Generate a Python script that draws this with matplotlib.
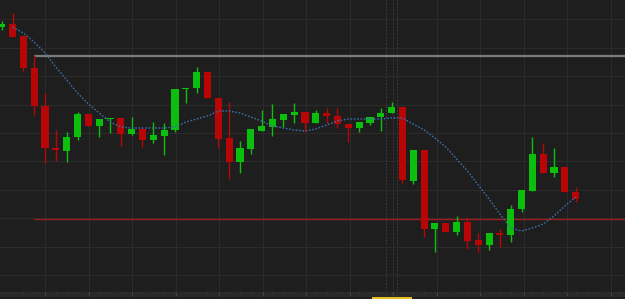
import numpy as np
import matplotlib
matplotlib.use("Agg")
import matplotlib.pyplot as plt
from matplotlib.patches import Rectangle

# OHLC (arbitrary price units, no axis labels shown)
opens = [27.3, 27.6, 26.4, 23.2, 19.4, 15.2, 14.9, 16.3, 18.6, 17.4,
         18.1, 18.2, 16.6, 17.1, 16.0, 16.4, 17.0, 21.1, 21.2, 22.8,
         20.2, 16.2, 13.8, 15.1, 16.9, 17.3, 18.0, 18.5, 18.8, 17.7,
         18.7, 18.4, 17.6, 17.2, 17.7, 18.3, 18.7, 19.3, 11.9, 15.0,
         7.1, 7.7, 6.8, 7.8, 6.0, 5.5, 6.7, 6.5, 9.1, 10.9,
         14.6, 12.7, 13.3, 10.8]
highs = [27.9, 28.7, 26.4, 24.5, 20.7, 17.0, 16.8, 18.8, 18.6, 18.1,
         18.2, 18.2, 18.3, 17.1, 17.8, 17.7, 21.1, 21.2, 23.3, 22.8,
         20.2, 19.8, 15.9, 17.1, 19.0, 19.6, 18.6, 19.7, 18.8, 19.0,
         19.2, 19.2, 17.6, 17.8, 18.3, 19.2, 19.8, 19.3, 15.0, 15.0,
         7.7, 7.7, 8.4, 8.3, 6.7, 6.7, 7.1, 9.5, 11.0, 16.3,
         15.7, 15.2, 13.3, 11.3]
lows = [27.0, 26.3, 22.9, 18.5, 13.7, 13.9, 13.8, 16.0, 17.4, 16.3,
        16.7, 15.4, 16.5, 15.3, 15.7, 14.5, 16.8, 19.7, 20.7, 20.2,
        15.2, 12.1, 12.7, 14.6, 16.9, 16.4, 17.3, 17.7, 16.8, 17.7,
        17.7, 17.2, 15.8, 16.8, 17.5, 16.9, 18.7, 11.7, 11.6, 6.3,
        4.8, 6.8, 6.5, 5.1, 4.8, 5.0, 5.3, 5.8, 8.8, 10.9,
        12.7, 12.3, 10.8, 9.8]
closes = [27.6, 26.3, 23.2, 19.4, 15.2, 15.0, 16.3, 18.6, 17.4, 18.1,
          18.2, 16.6, 17.1, 16.0, 16.5, 17.0, 21.1, 21.2, 22.8, 20.2,
          16.1, 13.8, 15.2, 17.1, 17.4, 18.1, 18.6, 18.8, 17.7, 18.7,
          18.4, 17.6, 17.2, 17.8, 18.3, 18.7, 19.3, 12.0, 15.0, 7.1,
          7.7, 6.8, 7.8, 5.9, 5.5, 6.7, 6.5, 9.1, 11.0, 14.6,
          12.7, 13.3, 10.8, 10.1]

# moving average (starts at the 2nd bar)
ma = [np.nan, 27.3, 26.7, 25.8, 24.7, 23.3, 22.0, 20.7, 19.6, 18.7,
      17.8, 17.3, 17.2, 17.2, 17.2, 17.2, 17.3, 17.8, 18.1, 18.4,
      18.9, 18.9, 18.7, 18.3, 17.9, 17.4, 17.2, 17.0, 16.9, 17.1,
      17.5, 17.9, 18.1, 18.1, 18.1, 18.1, 18.2, 18.2, 17.6, 17.0,
      16.2, 15.3, 14.1, 12.9, 11.5, 10.1, 8.6, 7.2, 6.9, 7.2,
      7.6, 8.4, 9.4, 10.3]

resistance = 24.45
support = 8.1
level_start = 2.98   # bar index where the two level lines begin
cross_price = 19.5
cross_bar = 36

BG = "#1e1e1e"
GRID = "#2b2b2b"
UP = "#0cbf0c"
DOWN = "#b80606"

fig = plt.figure(figsize=(6.25, 2.99), dpi=100, facecolor=BG)
ax = fig.add_axes([0, 8 / 299, 1, 291 / 299])
ax.set_facecolor(BG)

n = len(opens)
x = np.arange(n)
w = 0.66

for i in range(n):
    o, h, l, c = opens[i], highs[i], lows[i], closes[i]
    col = UP if c >= o else DOWN
    ax.vlines(i, l, h, color=col, lw=1, zorder=3)
    lo = min(o, c)
    ht = max(abs(c - o), 0.15)
    ax.add_patch(Rectangle((i - w / 2, lo), w, ht, facecolor=col,
                           edgecolor="none", zorder=4))

ax.plot(x, ma, color="#3b6ea6", lw=1, ls=(0, (1.2, 1.2)), zorder=5)

ax.hlines(resistance, level_start, 60, color="#7c7c7c", lw=1.6, zorder=2)
ax.hlines(support, level_start, 60, color="#9a1e1e", lw=1, zorder=2)
ax.axhline(cross_price, color="#4a4a4a", lw=0.8, ls=(0, (1.5, 1.5)), zorder=1)
for xv in (cross_bar - 0.5, cross_bar + 0.5):
    ax.axvline(xv, color="#3e3e3e", lw=0.8, ls=(0, (1.5, 1.5)), zorder=1)

ax.set_xlim(-0.157, 57.55)
ax.set_ylim(0.9, 30.0)
ax.set_xticks(np.arange(4, 58, 4.02))
ax.set_yticks(np.arange(2.5, 29, 2.84))
ax.grid(True, color=GRID, lw=0.8)
ax.tick_params(length=0, labelleft=False, labelbottom=False)
for s in ax.spines.values():
    s.set_visible(False)

# bottom time strip
bx = fig.add_axes([0, 0, 1, 8 / 299])
bx.set_facecolor("#151515")
bx.set_xlim(-0.157, 57.55)
bx.set_ylim(0, 8)
bx.axhspan(3, 7, color="#292929")
bx.vlines(np.arange(0, 58), 5.6, 7, color="#4a4a4a", lw=0.6)
bx.vlines(np.arange(4, 58, 4.02), 3, 7, color="#4a4a4a", lw=0.6)
bx.add_patch(Rectangle((cross_bar - 1.85, 0), 3.7, 2.2, facecolor="#e3c01e",
                       edgecolor="none"))
bx.axis("off")

fig.savefig("out.png", dpi=100, facecolor=BG)
